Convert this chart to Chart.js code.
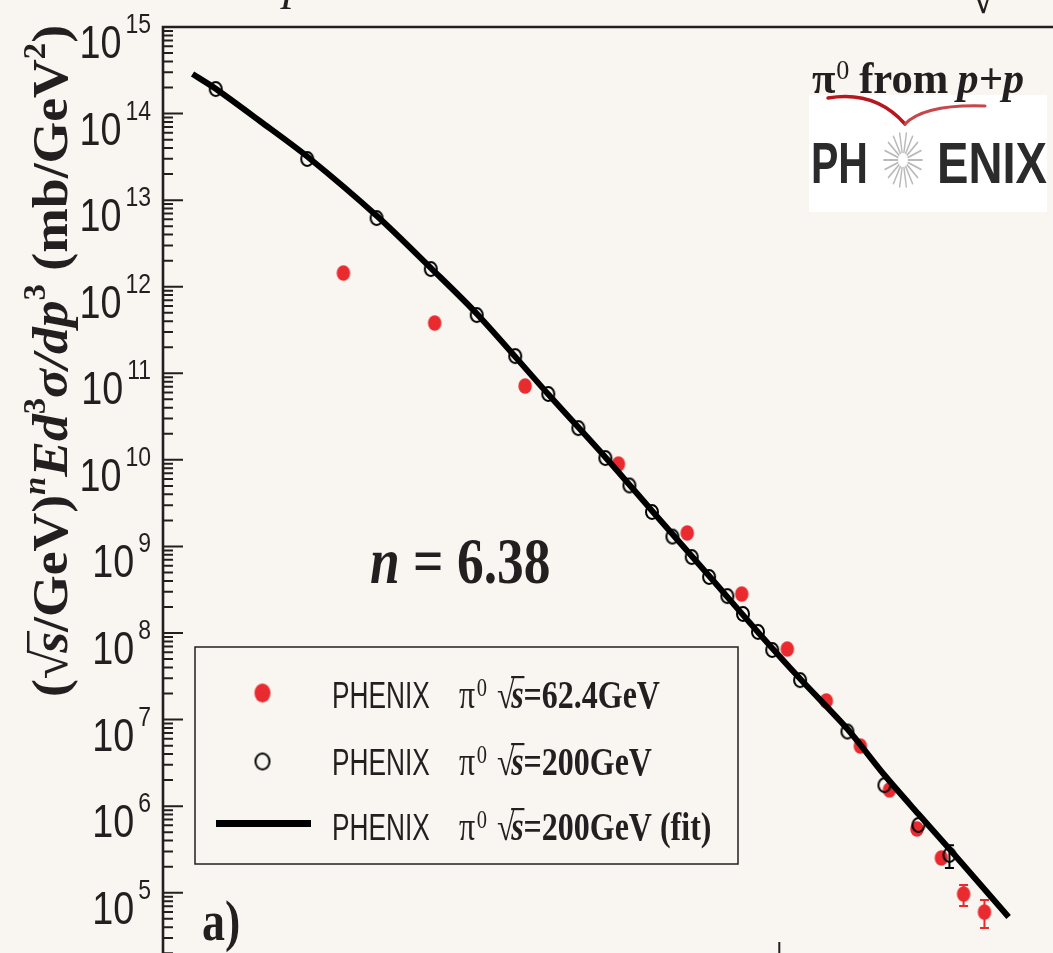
<!DOCTYPE html>
<html>
<head>
<meta charset="utf-8">
<script src="https://cdn.jsdelivr.net/npm/chart.js@4.4.1/dist/chart.umd.min.js"></script>
<style>
  html, body { margin: 0; padding: 0; background: #f9f6f1; overflow: hidden; }
  canvas { display: block; }
</style>
</head>
<body>
<canvas id="c" width="1100" height="1010"></canvas>
<script>
// ─── data (x_T, scaled invariant cross section) ─────────────────────────
const xt200 = [0.0124, 0.0174, 0.0225, 0.0275, 0.0326, 0.0376, 0.0425, 0.0475, 0.0525, 0.0574,
               0.0624, 0.0673, 0.0723, 0.0771, 0.0825, 0.0874, 0.0924, 0.0974, 0.108, 0.1287,
               0.1476, 0.1674, 0.1878];
const y200  = [1.92e14, 2.99e13, 6.22e12, 1.60e12, 4.71e11, 1.58e11, 5.77e10, 2.33e10, 1.05e10, 5.06e9,
               2.50e9, 1.30e9, 7.55e8, 4.44e8, 2.67e8, 1.66e8, 1.03e8, 6.37e7, 2.86e7, 7.28e6,
               1.75e6, 6.05e5, 2.73e5];
const err200Lo = [null, null, null, null, null, null, null, null, null, null, null, null, null, null,
                  null, null, null, null, null, null, null, null, 1.93e5];
const err200Hi = [null, null, null, null, null, null, null, null, null, null, null, null, null, null,
                  null, null, null, null, null, null, null, null, 3.53e5];

const xt62 = [0.0199, 0.0279, 0.0390, 0.0551, 0.0711, 0.0870, 0.1030, 0.1190, 0.1350, 0.1504,
              0.1665, 0.1823, 0.1979, 0.2138];
const y62  = [1.44e12, 3.81e11, 7.13e10, 8.95e9, 1.43e9, 2.82e8, 6.53e7, 1.64e7, 4.95e6, 1.54e6,
              5.45e5, 2.52e5, 9.66e4, 5.98e4];
const err62Lo = [null, null, null, null, null, null, null, null, null, null, null, null, 7.01e4, 3.91e4];
const err62Hi = [null, null, null, null, null, null, null, null, null, null, null, null, 1.23e5, 8.24e4];

// fit curve
const fitX = [0.01138, 0.01235, 0.0146, 0.01744, 0.02253, 0.02752, 0.03264, 0.04246, 0.05246, 0.06244,
              0.07713, 0.09235, 0.1081, 0.1287, 0.1476, 0.1674, 0.1878, 0.2338];
const fitY = [2.86e14, 1.97e14, 8.20e13, 3.15e13, 6.56e12, 1.64e12, 4.84e11, 5.77e10, 1.08e10, 2.57e9,
              4.55e8, 1.03e8, 2.94e7, 7.78e6, 2.29e6, 8.11e5, 3.20e5, 5.24e4];

const yTickExps = [5, 6, 7, 8, 9, 10, 11, 12, 13, 14, 15];
const legendLabels = ['=62.4GeV', '=200GeV', '=200GeV (fit)'];

// ─── styles ─────────────────────────────────────────────────────────────
const BG = '#f9f6f1';
const INK = '#231f20';
const RED = '#e92b2f';
const SERIF = '"Liberation Serif", "DejaVu Serif", serif';
const SANS = '"Liberation Sans", "DejaVu Sans", sans-serif';

function ellipseImg(w, h, fill, stroke, lw) {
  const c = document.createElement('canvas');
  c.width = Math.ceil(w + 4); c.height = Math.ceil(h + 4);
  const g = c.getContext('2d');
  g.beginPath();
  g.ellipse(c.width / 2, c.height / 2, w / 2, h / 2, 0, 0, Math.PI * 2);
  if (fill) { g.fillStyle = fill; g.fill(); }
  if (stroke) { g.lineWidth = lw; g.strokeStyle = stroke; g.stroke(); }
  return c;
}
const redDot = ellipseImg(13.5, 15.5, RED);
const openDot = ellipseImg(12, 14, null, '#000', 2);
const redDotBig = ellipseImg(16, 19, RED);
const openDotBig = ellipseImg(14, 16, null, '#000', 2);

// rich text runs: [{t, f, dy, dx, bar}]
function measureRuns(ctx, parts) {
  let w = 0;
  parts.forEach(p => { ctx.font = p.f; w += ctx.measureText(p.t).width + (p.dx || 0); });
  return w;
}
function drawRuns(ctx, x, y, parts, sx, color) {
  ctx.save();
  ctx.translate(x, y);
  ctx.scale(sx, 1);
  ctx.fillStyle = color || INK;
  ctx.textAlign = 'left';
  ctx.textBaseline = 'alphabetic';
  let cx = 0;
  parts.forEach(p => {
    ctx.font = p.f;
    cx += (p.dx || 0);
    ctx.fillText(p.t, cx, p.dy || 0);
    const w = ctx.measureText(p.t).width;
    if (p.bar) ctx.fillRect(cx + p.bar[0], p.bar[1], w - p.bar[0] + 1, p.bar[2]);
    cx += w;
  });
  ctx.restore();
  return cx * sx;
}

// ─── custom drawing plugin ──────────────────────────────────────────────
const decor = {
  id: 'decor',
  beforeDraw(chart) {
    const ctx = chart.ctx;
    ctx.save();
    ctx.fillStyle = BG;
    ctx.fillRect(0, 0, chart.width, chart.height);
    ctx.restore();
  },
  beforeDatasetsDraw(chart) {
    // error bars
    const { ctx, scales: { x, y } } = chart;
    const sets = [[xt62, err62Lo, err62Hi, RED], [xt200, err200Lo, err200Hi, '#000']];
    ctx.save();
    sets.forEach(([xs, lo, hi, col]) => {
      ctx.strokeStyle = col;
      ctx.lineWidth = 2;
      xs.forEach((xv, i) => {
        if (lo[i] == null) return;
        const px = x.getPixelForValue(xv);
        const p1 = y.getPixelForValue(lo[i]);
        const p2 = y.getPixelForValue(hi[i]);
        ctx.beginPath();
        ctx.moveTo(px, p1); ctx.lineTo(px, p2);
        ctx.moveTo(px - 4.5, p1); ctx.lineTo(px + 4.5, p1);
        ctx.moveTo(px - 4.5, p2); ctx.lineTo(px + 4.5, p2);
        ctx.stroke();
      });
    });
    ctx.restore();
  },
  afterDraw(chart) {
    const { ctx, chartArea: a, scales: { x, y } } = chart;
    ctx.save();

    // frame
    ctx.strokeStyle = INK;
    ctx.lineWidth = 2.6;
    ctx.beginPath();
    ctx.moveTo(a.left, a.bottom); ctx.lineTo(a.left, a.top); ctx.lineTo(a.right, a.top);
    ctx.moveTo(a.left, a.bottom); ctx.lineTo(a.right, a.bottom);
    ctx.stroke();

    // y ticks (inside)
    ctx.lineWidth = 2;
    ctx.beginPath();
    for (let e = 4; e <= 15; e++) {
      for (let m = 1; m <= 9; m++) {
        const v = m * Math.pow(10, e);
        if (v < y.min * 0.999 || v > y.max * 1.001) continue;
        const py = y.getPixelForValue(v);
        ctx.moveTo(a.left, py); ctx.lineTo(a.left + (m === 1 ? 20 : 10), py);
      }
    }
    // x ticks (inside, bottom)
    for (let e = -2; e <= 0; e++) {
      for (let m = 1; m <= 9; m++) {
        const v = m * Math.pow(10, e);
        if (v < x.min * 0.999 || v > x.max * 1.001) continue;
        const px = x.getPixelForValue(v);
        ctx.moveTo(px, a.bottom); ctx.lineTo(px, a.bottom - (m === 1 ? 20 : 9));
      }
    }
    ctx.stroke();

    // y tick labels 10^n
    ctx.fillStyle = INK;
    yTickExps.forEach(e => {
      const py = y.getPixelForValue(Math.pow(10, e));
      const rx = a.left - 12;
      ctx.save();
      ctx.font = '28px ' + SANS;
      const ew = ctx.measureText(String(e)).width * 0.82;
      ctx.translate(rx, py + 6);
      ctx.scale(0.82, 1);
      ctx.textAlign = 'right';
      ctx.fillText(String(e), 0, 0);
      ctx.restore();
      ctx.save();
      ctx.font = '46px ' + SANS;
      ctx.translate(rx - ew - 4, py + 31);
      ctx.scale(0.82, 1);
      ctx.textAlign = 'right';
      ctx.fillText('10', 0, 0);
      ctx.restore();
    });

    // y axis title (rotated)
    const S = 51;
    const B = 'bold ' + S + 'px ' + SERIF, BI = 'italic bold ' + S + 'px ' + SERIF;
    const SB = 'bold 31px ' + SERIF, SBI = 'italic bold 31px ' + SERIF;
    const title = [
      { t: '(', f: B }, { t: '\u221A', f: S + 'px ' + SERIF }, { t: 's', f: BI, dx: -3, bar: [0, -40, 2.5] },
      { t: '/GeV)', f: B }, { t: 'n', f: SBI, dy: -22 }, { t: 'Ed', f: BI }, { t: '3', f: SB, dy: -22 },
      { t: '\u03C3', f: BI }, { t: '/dp', f: BI }, { t: '3', f: SB, dy: -22 },
      { t: ' (mb/GeV', f: B }, { t: '2', f: SB, dy: -22 }, { t: ')', f: B }
    ];
    const tw = measureRuns(ctx, title);
    ctx.save();
    ctx.translate(67, 697);
    ctx.rotate(-Math.PI / 2);
    drawRuns(ctx, 0, 0, title, 672 / tw);
    ctx.restore();

    // legend box
    ctx.fillStyle = BG;
    ctx.fillRect(195, 647, 543, 217);
    ctx.strokeStyle = INK;
    ctx.lineWidth = 1.5;
    ctx.strokeRect(195, 647, 543, 217);
    ctx.drawImage(redDotBig, 262.5 - redDotBig.width / 2, 693 - redDotBig.height / 2);
    ctx.drawImage(openDotBig, 262.5 - openDotBig.width / 2, 761.5 - openDotBig.height / 2);
    ctx.strokeStyle = '#000';
    ctx.lineWidth = 7;
    ctx.beginPath(); ctx.moveTo(216, 823.5); ctx.lineTo(311, 823.5); ctx.stroke();
    const baselines = [708, 775, 840];
    legendLabels.forEach((lab, i) => {
      const by = baselines[i];
      drawRuns(ctx, 332, by, [{ t: 'PHENIX', f: '36px ' + SANS }], 0.73);
      drawRuns(ctx, 459, by, [
        { t: '\u03C0', f: '39px ' + SERIF },
        { t: '0', f: '25px ' + SERIF, dy: -12, dx: 2 },
        { t: '\u221A', f: '39px ' + SERIF, dx: 12 },
        { t: 's', f: 'italic bold 39px ' + SERIF, dx: -4, bar: [0, -32, 2.2] },
        { t: lab, f: 'bold 39px ' + SERIF }
      ], 0.82);
    });

    // n = 6.38
    drawRuns(ctx, 370, 583, [
      { t: 'n', f: 'italic bold 66px ' + SERIF },
      { t: ' = 6.38', f: 'bold 66px ' + SERIF }
    ], 0.81);

    // a)
    drawRuns(ctx, 202, 940, [{ t: 'a)', f: 'bold 56px ' + SERIF }], 0.82);

    // clipped header fragments
    drawRuns(ctx, 283, -1, [{ t: 'p', f: 'italic 48px ' + SERIF }], 1);
    drawRuns(ctx, 970, 13, [{ t: '\u221A', f: '48px ' + SERIF }], 1);

    // logo
    ctx.fillStyle = '#ffffff';
    ctx.fillRect(809, 95, 238, 117);
    ctx.strokeStyle = '#b8161d';
    ctx.lineCap = 'round';
    ctx.lineWidth = 3.5;
    ctx.beginPath();
    ctx.moveTo(828, 98); ctx.quadraticCurveTo(875, 90, 905, 124);
    ctx.stroke();
    ctx.strokeStyle = '#c8464b';
    ctx.lineWidth = 3;
    ctx.beginPath();
    ctx.moveTo(905, 124); ctx.quadraticCurveTo(925, 104, 985, 106);
    ctx.stroke();
    drawRuns(ctx, 812, 93, [
      { t: '\u03C0', f: 'bold 44px ' + SERIF },
      { t: '0', f: '27px ' + SERIF, dy: -14, dx: 1 },
      { t: 'from', f: 'bold 44px ' + SERIF, dx: 10 },
      { t: 'p+p', f: 'italic bold 44px ' + SERIF, dx: 9 }
    ], 0.97);
    // sunburst
    ctx.save();
    ctx.translate(903, 160);
    ctx.scale(0.7, 1);
    ctx.strokeStyle = '#b9b9b9';
    ctx.lineWidth = 2;
    ctx.lineCap = 'butt';
    for (let k = 0; k < 18; k++) {
      const ang = k * Math.PI * 2 / 18;
      ctx.beginPath();
      ctx.moveTo(Math.cos(ang) * 7, Math.sin(ang) * 7);
      ctx.lineTo(Math.cos(ang) * 28, Math.sin(ang) * 28);
      ctx.stroke();
    }
    ctx.restore();
    ctx.fillStyle = '#2b2b2b';
    ctx.font = 'bold 58px ' + SANS;
    ctx.textAlign = 'left';
    ctx.fillText('PH', 811, 183, 57);
    ctx.fillText('ENIX', 937, 183, 110);

    ctx.restore();
  }
};

// ─── chart ──────────────────────────────────────────────────────────────
const toXY = (xs, ys) => xs.map((v, i) => ({ x: v, y: ys[i] }));

new Chart(document.getElementById('c'), {
  type: 'scatter',
  data: {
    datasets: [
      {
        label: 'PHENIX \u03C0\u2070 \u221As=200GeV (fit)',
        data: toXY(fitX, fitY),
        showLine: true,
        borderColor: '#000',
        borderWidth: 6,
        borderCapStyle: 'butt',
        tension: 0.3,
        pointRadius: 0,
        order: 0
      },
      {
        label: 'PHENIX \u03C0\u2070 \u221As=200GeV',
        data: toXY(xt200, y200),
        pointStyle: openDot,
        pointRadius: 7,
        order: 1
      },
      {
        label: 'PHENIX \u03C0\u2070 \u221As=62.4GeV',
        data: toXY(xt62, y62),
        pointStyle: redDot,
        pointRadius: 7,
        order: 2
      }
    ]
  },
  options: {
    responsive: false,
    animation: false,
    devicePixelRatio: 1,
    events: [],
    layout: { autoPadding: false, padding: { left: 163, top: 27, right: 0, bottom: 48 } },
    plugins: { legend: { display: false }, tooltip: { enabled: false } },
    scales: {
      x: { type: 'logarithmic', min: 0.0102, max: 0.328, bounds: 'data', display: false },
      y: { type: 'logarithmic', min: Math.pow(10, 4.2), max: 1e15, bounds: 'data', display: false }
    }
  },
  plugins: [decor]
});
</script>
</body>
</html>
